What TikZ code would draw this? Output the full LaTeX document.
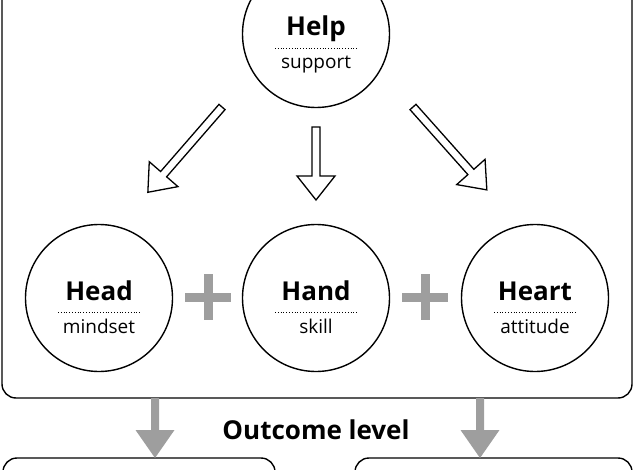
\documentclass[tikz,border=0pt]{standalone}
\usepackage{fontspec}
\setmainfont{Open Sans}
\begin{document}
\begin{tikzpicture}[x=1pt,y=1pt,
  circ/.style={draw,line width=1.4pt,circle,minimum size=147pt,inner sep=0pt},
  ttl/.style={font=\bfseries\fontsize{26}{30}\selectfont},
  sub/.style={font=\fontsize{19}{22}\selectfont},
  box/.style={draw,line width=1.4pt,rounded corners=14pt},
  harrow/.style={draw,line width=1.3pt,fill=white,line join=miter},
  garrow/.style={fill=black!38},
  plus/.style={draw=black!38,line width=9pt}]
\useasboundingbox (0,0) rectangle (634,-470);
\draw[box] (2,40) rectangle (632,-398);
\draw[box] (3,-458) rectangle (275,-520);
\draw[box] (355,-458) rectangle (632,-520);
\foreach \n/\x/\y/\t/\s in {help/316/-34/Help/support,head/99/-298/Head/mindset,hand/316/-298/Hand/skill,heart/535/-298/Heart/attitude}{
  \node[circ] (\n) at (\x,\y) {};
  \node[ttl,anchor=base] (\n t) at (\x,\y-2) {\t};
  \draw[dotted,line width=0.8pt] (\x-41,\y-14) -- (\x+41,\y-14);
  \node[sub,anchor=base] (\n s) at (\x,\y-35) {\s};
}
\draw[harrow,shift={(222,-107)},rotate=229] (0,4)--(89,4)--(89,19)--(113,0)--(89,-19)--(89,-4)--(0,-4)--cycle;
\draw[harrow,shift={(316,-127)},rotate=-90] (0,4)--(49,4)--(49,19)--(73,0)--(49,-19)--(49,-4)--(0,-4)--cycle;
\draw[harrow,shift={(413,-107)},rotate=-48.3] (0,4)--(87,4)--(87,19)--(111,0)--(87,-19)--(87,-4)--(0,-4)--cycle;
\foreach \x in {208,425}{
  \draw[plus] (\x-23,-297) -- (\x+23,-297);
  \draw[plus] (\x,-274) -- (\x,-320);
}
\foreach \x in {155,480}{
  \fill[garrow] (\x-4,-398) -- (\x+4,-398) -- (\x+4,-430) -- (\x+19.5,-430) -- (\x,-458) -- (\x-19.5,-430) -- (\x-4,-430) -- cycle;
}
\node[font=\bfseries\fontsize{26}{30}\selectfont] (out) at (316,-430) {Outcome level};
\end{tikzpicture}
\end{document}
